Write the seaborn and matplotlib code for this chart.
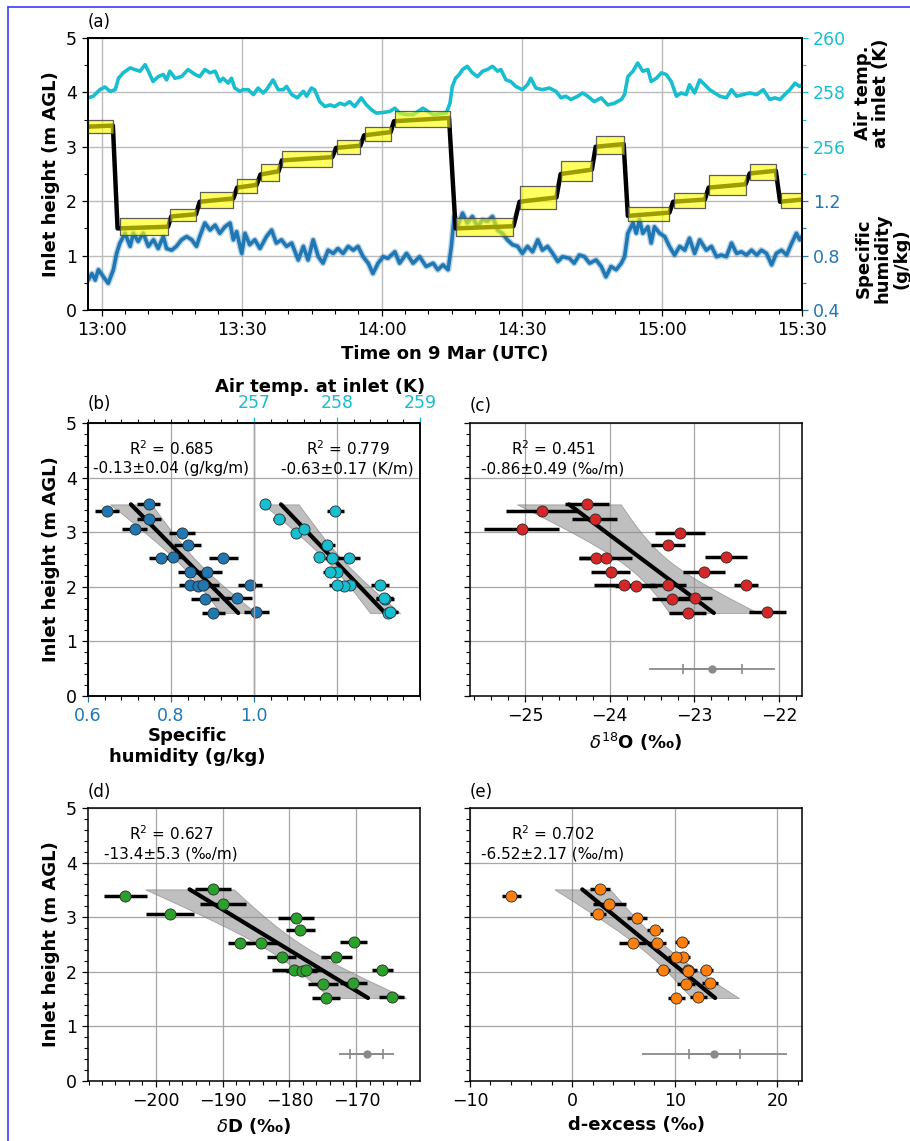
import numpy as np
import matplotlib
matplotlib.use("Agg")
import matplotlib.pyplot as plt
import seaborn as sns
from matplotlib.ticker import MultipleLocator, FixedLocator
from matplotlib.lines import Line2D

# ---------------- Panel (a): time series, minutes after 13:00 UTC ----------------
temp_time = [-2.9, -1.8, -0.4, 0.7, 1.8, 2.9, 3.6, 4.6, 6.1, 7.1,
             8.2, 9.3, 10.0, 11.0, 12.1, 13.2, 13.9, 14.6, 15.7, 17.1,
             18.5, 20.0, 21.0, 22.1, 23.2, 24.3, 25.3, 26.0, 27.1, 27.8,
             28.5, 29.6, 30.3, 31.4, 32.5, 33.5, 34.6, 35.3, 36.7, 37.8,
             38.9, 39.6, 40.7, 41.9, 43.2, 43.9, 44.9, 45.6, 46.7, 47.8,
             48.9, 49.9, 51.0, 52.1, 53.1, 54.2, 55.6, 56.7, 57.8, 58.8,
             60.3, 61.7, 62.8, 63.8, 65.3, 66.7, 68.8, 71.0, 73.8, 74.6,
             75.1, 75.8, 76.6, 77.3, 78.3, 79.4, 80.5, 81.6, 82.6, 83.7,
             84.8, 85.5, 86.6, 87.6, 88.7, 90.1, 91.2, 91.9, 93.0, 94.4,
             95.9, 97.3, 98.4, 99.4, 100.5, 102.0, 103.0, 104.1, 105.5, 107.0,
             108.4, 109.8, 111.3, 112.0, 112.7, 113.8, 114.8, 115.9, 117.0, 117.7,
             118.8, 119.9, 120.9, 122.0, 123.1, 124.1, 125.2, 125.9, 127.0, 128.1,
             129.2, 130.2, 131.3, 132.4, 133.8, 134.9, 136.0, 137.4, 138.8, 140.3,
             141.7, 143.1, 144.2, 145.3, 146.3, 147.4, 148.5, 149.5, 150.0]
temp_K = [257.80, 257.86, 258.10, 258.20, 258.04, 258.10, 258.52, 258.72, 258.90, 258.84,
          258.78, 259.02, 258.78, 258.40, 258.58, 258.66, 258.46, 258.78, 258.52, 258.58,
          258.84, 258.66, 258.58, 258.84, 258.72, 258.78, 258.40, 258.52, 258.34, 258.52,
          258.16, 258.04, 258.10, 258.10, 257.92, 258.16, 257.98, 258.10, 258.46, 258.10,
          258.10, 258.22, 257.92, 257.80, 258.04, 257.86, 258.16, 258.10, 257.66, 257.48,
          257.54, 257.48, 257.60, 257.54, 257.66, 257.48, 257.80, 257.54, 257.36, 257.24,
          257.26, 257.30, 257.42, 257.24, 257.18, 257.18, 257.42, 257.18, 257.24, 257.60,
          258.22, 258.52, 258.66, 258.84, 258.96, 258.72, 258.58, 258.78, 258.84, 258.96,
          258.78, 258.84, 258.46, 258.40, 258.22, 258.10, 258.28, 258.52, 258.16, 258.10,
          258.16, 258.04, 257.80, 257.86, 257.74, 257.86, 257.98, 257.86, 257.66, 257.80,
          257.54, 257.60, 257.74, 257.92, 258.58, 258.78, 259.08, 258.78, 258.84, 258.40,
          258.52, 258.72, 258.66, 258.40, 257.86, 257.98, 257.92, 258.28, 257.98, 258.46,
          258.28, 258.10, 257.98, 257.86, 257.80, 258.10, 257.86, 257.92, 257.98, 257.92,
          258.10, 257.74, 257.80, 257.74, 257.92, 258.10, 258.34, 258.22, 258.28]

q_time = [-2.9, -2.1, -1.4, -0.7, 0.4, 1.4, 2.5, 3.2, 3.9, 5.0,
          6.1, 6.8, 7.8, 8.9, 10.0, 11.1, 12.1, 13.2, 13.9, 15.0,
          16.0, 17.1, 18.2, 19.3, 20.3, 21.0, 22.1, 23.2, 24.3, 25.3,
          26.4, 27.5, 28.2, 28.9, 30.0, 30.7, 31.7, 32.8, 33.9, 35.3,
          36.4, 37.4, 38.5, 39.6, 40.7, 42.1, 43.2, 44.2, 45.3, 46.4,
          47.4, 48.5, 49.6, 50.6, 51.7, 52.8, 53.9, 54.9, 56.0, 57.1,
          58.1, 59.2, 60.3, 61.3, 62.8, 63.8, 65.3, 66.7, 68.1, 69.5,
          71.0, 72.0, 73.1, 74.2, 74.9, 75.5, 76.2, 77.3, 78.3, 79.4,
          80.5, 81.6, 82.6, 83.7, 84.8, 85.8, 86.9, 88.0, 89.1, 90.1,
          91.2, 92.3, 93.4, 94.4, 95.5, 96.6, 97.7, 98.7, 100.2, 101.2,
          102.3, 103.4, 104.5, 105.9, 107.0, 108.0, 109.1, 110.2, 111.3, 112.0,
          112.7, 113.8, 114.5, 115.2, 115.9, 117.0, 117.7, 118.4, 119.5, 120.6,
          121.6, 122.7, 123.8, 124.9, 125.9, 127.0, 128.1, 129.5, 130.6, 131.7,
          132.7, 133.8, 134.9, 136.0, 137.0, 138.1, 139.2, 140.3, 141.3, 142.4,
          143.5, 144.5, 145.6, 146.7, 147.8, 148.8, 149.5, 150.0]
q_gkg = [0.620, 0.668, 0.620, 0.696, 0.644, 0.596, 0.696, 0.816, 0.892, 0.964,
         0.868, 0.964, 0.904, 0.964, 0.868, 0.916, 0.852, 0.940, 0.852, 0.840,
         0.868, 0.916, 0.940, 0.916, 0.868, 0.940, 1.040, 0.988, 1.024, 0.964,
         1.012, 1.040, 0.916, 0.976, 0.816, 0.964, 0.880, 0.916, 0.852, 0.940,
         0.988, 0.892, 0.916, 0.868, 0.892, 0.768, 0.868, 0.768, 0.916, 0.792,
         0.744, 0.840, 0.816, 0.852, 0.816, 0.868, 0.840, 0.868, 0.792, 0.744,
         0.668, 0.744, 0.792, 0.780, 0.828, 0.744, 0.816, 0.744, 0.792, 0.720,
         0.744, 0.696, 0.732, 0.696, 0.868, 1.088, 1.012, 1.112, 1.040, 1.088,
         1.012, 1.064, 1.052, 1.088, 0.988, 0.964, 0.916, 0.880, 0.868, 0.816,
         0.868, 0.828, 0.916, 0.840, 0.868, 0.816, 0.756, 0.792, 0.780, 0.744,
         0.804, 0.792, 0.744, 0.768, 0.720, 0.644, 0.720, 0.696, 0.744, 0.792,
         0.964, 1.040, 0.964, 1.064, 0.964, 1.012, 0.892, 1.012, 0.964, 0.940,
         0.868, 0.804, 0.868, 0.840, 0.928, 0.816, 0.916, 0.840, 0.868, 0.792,
         0.804, 0.792, 0.892, 0.816, 0.828, 0.804, 0.840, 0.804, 0.840, 0.816,
         0.732, 0.816, 0.840, 0.804, 0.892, 0.964, 0.916, 0.940]

inlet_time = [-2.9, 2.4, 3.4, 14.2, 14.9, 20.2, 21.0, 28.2, 29.0, 33.2,
              34.0, 37.9, 38.6, 49.4, 50.2, 55.4, 56.2, 61.9, 62.6, 74.4,
              75.8, 88.2, 89.5, 97.4, 98.3, 105.0, 105.8, 111.8, 112.7, 121.6,
              122.4, 129.2, 130.0, 137.9, 138.8, 144.4, 145.3, 150.0]
inlet_level = [3.37, 3.39, 1.50, 1.53, 1.72, 1.76, 1.99, 2.05, 2.25, 2.30,
               2.49, 2.55, 2.75, 2.81, 2.98, 3.02, 3.21, 3.27, 3.47, 3.53,
               1.50, 1.54, 1.99, 2.07, 2.50, 2.58, 3.00, 3.05, 1.73, 1.79,
               1.99, 2.03, 2.25, 2.31, 2.51, 2.56, 1.99, 2.03]

box_start = [-2.9, 3.9, 14.6, 21.0, 29.0, 34.1, 38.7, 50.4, 56.3, 62.8,
             75.8, 89.6, 98.4, 105.9, 112.8, 122.5, 130.0, 138.8, 145.4]
box_end = [2.5, 14.3, 20.2, 28.2, 33.2, 37.9, 49.4, 55.4, 61.9, 74.5,
           88.2, 97.4, 105.0, 111.8, 121.6, 129.2, 137.9, 144.4, 150.0]
box_low = [3.26, 1.38, 1.63, 1.87, 2.15, 2.37, 2.63, 2.87, 3.11, 3.36,
           1.36, 1.85, 2.37, 2.87, 1.63, 1.87, 2.12, 2.39, 1.87]
box_high = [3.50, 1.69, 1.85, 2.17, 2.40, 2.68, 2.93, 3.13, 3.37, 3.65,
            1.69, 2.28, 2.74, 3.19, 1.90, 2.15, 2.48, 2.69, 2.15]

time_ticks = [0, 30, 60, 90, 120, 150]
time_labels = ["13:00", "13:30", "14:00", "14:30", "15:00", "15:30"]

# ---------------- Panels (b)-(e): one value per inlet-height sample ----------------
sample_height = [3.38, 1.52, 1.77, 2.03, 2.27, 2.52, 2.77, 2.99, 3.25, 3.51,
                 1.53, 2.03, 2.52, 3.05, 1.79, 2.01, 2.27, 2.54, 2.03]
q_mean = [0.646, 0.902, 0.882, 0.991, 0.886, 0.926, 0.840, 0.826, 0.746, 0.746,
          1.006, 0.845, 0.775, 0.713, 0.958, 0.866, 0.845, 0.804, 0.878]
q_err = [0.029, 0.027, 0.033, 0.029, 0.038, 0.035, 0.032, 0.031, 0.029, 0.027,
         0.030, 0.025, 0.029, 0.030, 0.036, 0.025, 0.028, 0.028, 0.038]
t_mean = [257.98, 258.62, 258.58, 258.52, 258.00, 258.14, 257.88, 257.50, 257.30, 257.13,
          258.64, 258.16, 257.94, 257.60, 258.57, 258.09, 257.92, 257.78, 258.00]
t_err = [0.10, 0.07, 0.11, 0.11, 0.06, 0.14, 0.10, 0.05, 0.075, 0.04,
         0.10, 0.05, 0.08, 0.05, 0.10, 0.05, 0.09, 0.05, 0.10]
d18o = [-24.80, -23.08, -23.26, -22.39, -23.99, -24.16, -23.31, -23.17, -24.18, -24.27,
        -22.14, -23.83, -24.05, -25.04, -22.99, -23.69, -22.89, -22.63, -23.31]
d18o_err = [0.43, 0.22, 0.24, 0.145, 0.23, 0.20, 0.20, 0.30, 0.27, 0.26,
            0.22, 0.36, 0.31, 0.44, 0.20, 0.25, 0.25, 0.25, 0.21]
dD = [-204.53, -174.50, -175.05, -166.14, -181.18, -187.45, -178.39, -179.08, -189.94, -191.43,
      -164.74, -179.33, -184.21, -197.81, -170.47, -178.19, -173.01, -170.42, -177.59]
dD_err = [3.24, 2.10, 2.24, 1.55, 2.20, 1.70, 2.20, 2.70, 3.44, 2.66,
          1.90, 3.30, 2.30, 3.56, 2.00, 2.30, 2.30, 2.07, 2.30]
dxs = [-5.97, 10.15, 11.09, 13.07, 10.80, 5.86, 8.07, 6.31, 3.58, 2.71,
       12.29, 11.32, 8.26, 2.48, 13.43, 11.30, 10.15, 10.70, 8.85]
dxs_err = [0.9, 0.85, 0.85, 0.6, 0.7, 1.3, 0.8, 1.0, 1.6, 1.0,
           0.85, 0.8, 0.9, 0.8, 0.8, 0.7, 0.8, 0.7, 0.7]

# fit results, order: q, T, d18O, dD, d-excess
fit_slope = [-0.13, -0.63, -0.86, -13.4, -6.52]
fit_slope_err = [0.04, 0.17, 0.49, 5.3, 2.17]
fit_r2_labels = ["R$^2$ = 0.685", "R$^2$ = 0.779", "R$^2$ = 0.451", "R$^2$ = 0.627", "R$^2$ = 0.702"]
fit_grad_labels = ["-0.13±0.04 (g/kg/m)", "-0.63±0.17 (K/m)", "-0.86±0.49 (‰/m)",
                   "-13.4±5.3 (‰/m)", "-6.52±2.17 (‰/m)"]

# instrument reference uncertainty bars (centre, inner, outer half-widths), order d18O, dD, d-excess
ref_center = [-22.79, -168.48, 13.85]
ref_inner = [0.35, 2.44, 2.5]
ref_outer = [0.745, 4.13, 7.07]
ref_height = 0.5

# ---------------- style ----------------
sns.set_style("ticks")
plt.rcParams.update({
    "font.family": ["DejaVu Sans"],
    "font.size": 12,
    "axes.linewidth": 1.1,
    "axes.edgecolor": "black",
    "xtick.labelsize": 12.5, "ytick.labelsize": 12.5,
    "xtick.major.size": 4.5, "ytick.major.size": 4.5,
    "xtick.minor.size": 2.6, "ytick.minor.size": 2.6,
    "xtick.major.width": 0.9, "ytick.major.width": 0.9,
    "xtick.minor.width": 0.8, "ytick.minor.width": 0.8,
    "xtick.color": "black", "ytick.color": "black",
    "text.color": "black", "axes.labelcolor": "black",
})
C_T, C_Q, C_O, C_D, C_X = "#17becf", "#1f77b4", "#d62728", "#2ca02c", "#ff7f0e"
GRID_A = "#bcbcbc"
GRID = "#a6a6a6"

W, H = 910, 1141
fig = plt.figure(figsize=(W / 100, H / 100), dpi=100)


def px_axes(l, t, r, b):
    return fig.add_axes([l / W, 1 - b / H, (r - l) / W, (b - t) / H])


ax_a = px_axes(88, 38, 802, 310)
ax_b = px_axes(88, 423, 420, 696)
ax_c = px_axes(470, 423, 802, 696)
ax_d = px_axes(88, 808, 420, 1081)
ax_e = px_axes(470, 808, 802, 1081)

# ---------------- panel (a) ----------------
ax_a.set_ylim(0, 5)
ax_a.yaxis.set_major_locator(MultipleLocator(1))
ax_a.yaxis.set_minor_locator(MultipleLocator(0.5))
ax_a.grid(True, which="major", color=GRID_A, lw=1.0)
ax_a.set_ylabel("Inlet height (m AGL)", fontweight="bold", fontsize=13)
ax_a.set_xlabel("Time on 9 Mar (UTC)", fontweight="bold", fontsize=13)

ax_T = ax_a.twinx()
sns.lineplot(x=temp_time, y=temp_K, ax=ax_T, color=C_T, linewidth=2.6)
ax_T.set_ylim(250, 260)
ax_T.yaxis.set_major_locator(FixedLocator([256, 258, 260]))
ax_T.yaxis.set_minor_locator(FixedLocator([255, 257, 259]))
ax_T.tick_params(axis="y", which="both", colors=C_T)
ax_T.set_ylabel("")

ax_q = ax_a.twinx()
sns.lineplot(x=q_time, y=q_gkg, ax=ax_q, color=C_Q, linewidth=4.6, alpha=0.3)
sns.lineplot(x=q_time, y=q_gkg, ax=ax_q, color=C_Q, linewidth=2.6)
ax_q.set_ylim(0.4, 2.4)
ax_q.yaxis.set_major_locator(FixedLocator([0.4, 0.8, 1.2]))
ax_q.yaxis.set_minor_locator(FixedLocator([0.6, 1.0]))
ax_q.yaxis.set_major_formatter(matplotlib.ticker.FormatStrFormatter("%.1f"))
ax_q.tick_params(axis="y", which="both", colors=C_Q)
ax_q.set_ylabel("")

ax_box = ax_a.twinx()
ax_box.set_ylim(0, 5)
sns.lineplot(x=inlet_time, y=inlet_level, ax=ax_box, color="black", linewidth=3.2, zorder=1)
for s, e, lo, hi in zip(box_start, box_end, box_low, box_high):
    ax_box.fill_between([s, e], [lo, lo], [hi, hi], facecolor=(1, 1, 0, 0.62),
                        edgecolor=(0.3, 0.3, 0.3, 0.9), linewidth=0.9, zorder=2)
ax_box.set_yticks([])
ax_box.tick_params(axis="y", which="both", right=False, labelright=False)
ax_box.set_ylabel("")

ax_a.set_xlim(-2.93, 150)
ax_a.xaxis.set_major_locator(FixedLocator(time_ticks))
ax_a.set_xticklabels(time_labels)
ax_a.xaxis.set_minor_locator(MultipleLocator(5))

ax_a.text(1.098, 0.797, "Air temp.\nat inlet (K)", transform=ax_a.transAxes, rotation=90,
          ha="center", va="center", fontweight="bold", fontsize=13, linespacing=1.05)
ax_a.text(1.113, 0.19, "Specific\nhumidity\n(g/kg)", transform=ax_a.transAxes, rotation=90,
          ha="center", va="center", fontweight="bold", fontsize=13, linespacing=1.05)


# ---------------- profile panels ----------------
def draw_profile(ax, x, xerr, color, slope, slope_err):
    h = np.asarray(sample_height, float)
    x = np.asarray(x, float)
    h0, x0, hv = h.mean(), x.mean(), h.var()
    hh = np.linspace(h.min(), h.max(), 80)
    fit = x0 + slope * (hh - h0)
    half = slope_err * np.sqrt(hv + (hh - h0) ** 2)
    ax.fill_betweenx(hh, fit - half, fit + half, facecolor="#8c8c8c", alpha=0.55,
                     edgecolor="#6e6e6e", linewidth=0.6, zorder=1)
    ax.plot([fit[0], fit[-1]], [hh[0], hh[-1]], color="black", lw=3.0, zorder=2)
    ax.errorbar(x, h, xerr=xerr, fmt="none", ecolor="black", elinewidth=2.5, capsize=0, zorder=3)
    sns.scatterplot(x=x, y=h, ax=ax, color=color, s=64, edgecolor="#2b2b2b", linewidth=0.6,
                    zorder=4, legend=False)


def draw_reference(ax, i):
    ax.errorbar([ref_center[i]], [ref_height], xerr=[ref_outer[i]], fmt="none",
                ecolor="#8a8a8a", elinewidth=1.3, capsize=0, zorder=3)
    ax.errorbar([ref_center[i]], [ref_height], xerr=[ref_inner[i]], fmt="o", color="#8a8a8a",
                ms=5, elinewidth=1.3, capsize=3.5, capthick=1.2, zorder=3)


def style_profile(ax, ylabels):
    ax.set_ylim(0, 5)
    ax.yaxis.set_major_locator(MultipleLocator(1))
    ax.yaxis.set_minor_locator(MultipleLocator(0.2))
    ax.grid(True, which="major", color=GRID, lw=0.9)
    if ylabels:
        ax.set_ylabel("Inlet height (m AGL)", fontweight="bold", fontsize=13)
    else:
        ax.set_ylabel("")
        ax.tick_params(axis="y", labelleft=False)


def annotate(ax, i, xpos=0.25):
    ax.text(xpos, 0.907, fit_r2_labels[i], transform=ax.transAxes, ha="center", va="center", fontsize=11)
    ax.text(xpos, 0.832, fit_grad_labels[i], transform=ax.transAxes, ha="center", va="center", fontsize=11)


# (b) specific humidity (bottom) and air temperature (top)
draw_profile(ax_b, q_mean, q_err, C_Q, fit_slope[0], fit_slope_err[0])
style_profile(ax_b, True)
ax_b.set_xlim(0.6, 1.4)
ax_b.xaxis.set_major_locator(FixedLocator([0.6, 0.8, 1.0]))
ax_b.xaxis.set_major_formatter(matplotlib.ticker.FormatStrFormatter("%.1f"))
ax_b.xaxis.set_minor_locator(MultipleLocator(0.04))
ax_b.tick_params(axis="x", which="major", colors=C_Q)
ax_b.tick_params(axis="x", which="minor", colors="black")
ax_b.axvline(1.0, color="black", lw=0.8, zorder=0.8)
ax_b.set_xlabel("Specific\nhumidity (g/kg)", fontweight="bold", fontsize=13)
ax_b.xaxis.set_label_coords(0.30, -0.115)
annotate(ax_b, 0, 0.25)

ax_b2 = ax_b.twiny()
draw_profile(ax_b2, t_mean, t_err, C_T, fit_slope[1], fit_slope_err[1])
ax_b2.set_xlim(255, 259)
ax_b2.set_ylim(0, 5)
ax_b2.xaxis.set_major_locator(FixedLocator([257, 258, 259]))
ax_b2.xaxis.set_minor_locator(MultipleLocator(0.2))
ax_b2.tick_params(axis="x", which="major", colors=C_T)
ax_b2.tick_params(axis="x", which="minor", colors="black")
ax_b2.grid(True, axis="x", which="major", color=GRID, lw=0.9)
ax_b2.set_xlabel("Air temp. at inlet (K)", fontweight="bold", fontsize=13)
ax_b2.xaxis.set_label_coords(0.70, 1.115)
ax_b2.set_ylabel("")
annotate(ax_b2, 1, 0.782)

# (c) d18O
draw_profile(ax_c, d18o, d18o_err, C_O, fit_slope[2], fit_slope_err[2])
draw_reference(ax_c, 0)
style_profile(ax_c, False)
ax_c.set_xlim(-25.65, -21.73)
ax_c.xaxis.set_major_locator(FixedLocator([-25, -24, -23, -22]))
ax_c.xaxis.set_minor_locator(MultipleLocator(0.2))
ax_c.set_xlabel(r"$\delta^{18}$O (‰)", fontweight="bold", fontsize=13)
annotate(ax_c, 2)

# (d) dD
draw_profile(ax_d, dD, dD_err, C_D, fit_slope[3], fit_slope_err[3])
draw_reference(ax_d, 1)
style_profile(ax_d, True)
ax_d.set_xlim(-210.1, -160.5)
ax_d.xaxis.set_major_locator(FixedLocator([-200, -190, -180, -170]))
ax_d.xaxis.set_minor_locator(MultipleLocator(2))
ax_d.set_xlabel(r"$\delta$D (‰)", fontweight="bold", fontsize=13)
annotate(ax_d, 3)

# (e) d-excess
draw_profile(ax_e, dxs, dxs_err, C_X, fit_slope[4], fit_slope_err[4])
draw_reference(ax_e, 2)
style_profile(ax_e, False)
ax_e.set_xlim(-10, 22.4)
ax_e.xaxis.set_major_locator(FixedLocator([-10, 0, 10, 20]))
ax_e.xaxis.set_minor_locator(MultipleLocator(2))
ax_e.set_xlabel("d-excess (‰)", fontweight="bold", fontsize=13)
annotate(ax_e, 4)

# panel letters
for lab, xp, yp in [("(a)", 88, 22), ("(b)", 88, 404), ("(c)", 470, 406),
                    ("(d)", 88, 792), ("(e)", 470, 792)]:
    fig.text(xp / W, 1 - yp / H, lab, ha="left", va="center", fontsize=12)

# thin blue frame (left and top edges of the original screenshot)
fig.add_artist(Line2D([7.5 / W, 7.5 / W], [0, 1 - 6.5 / H], color="#3a3aff", lw=1.2))
fig.add_artist(Line2D([7.5 / W, 1], [1 - 6.5 / H, 1 - 6.5 / H], color="#3a3aff", lw=1.2))

fig.savefig("out.png", dpi=100)
